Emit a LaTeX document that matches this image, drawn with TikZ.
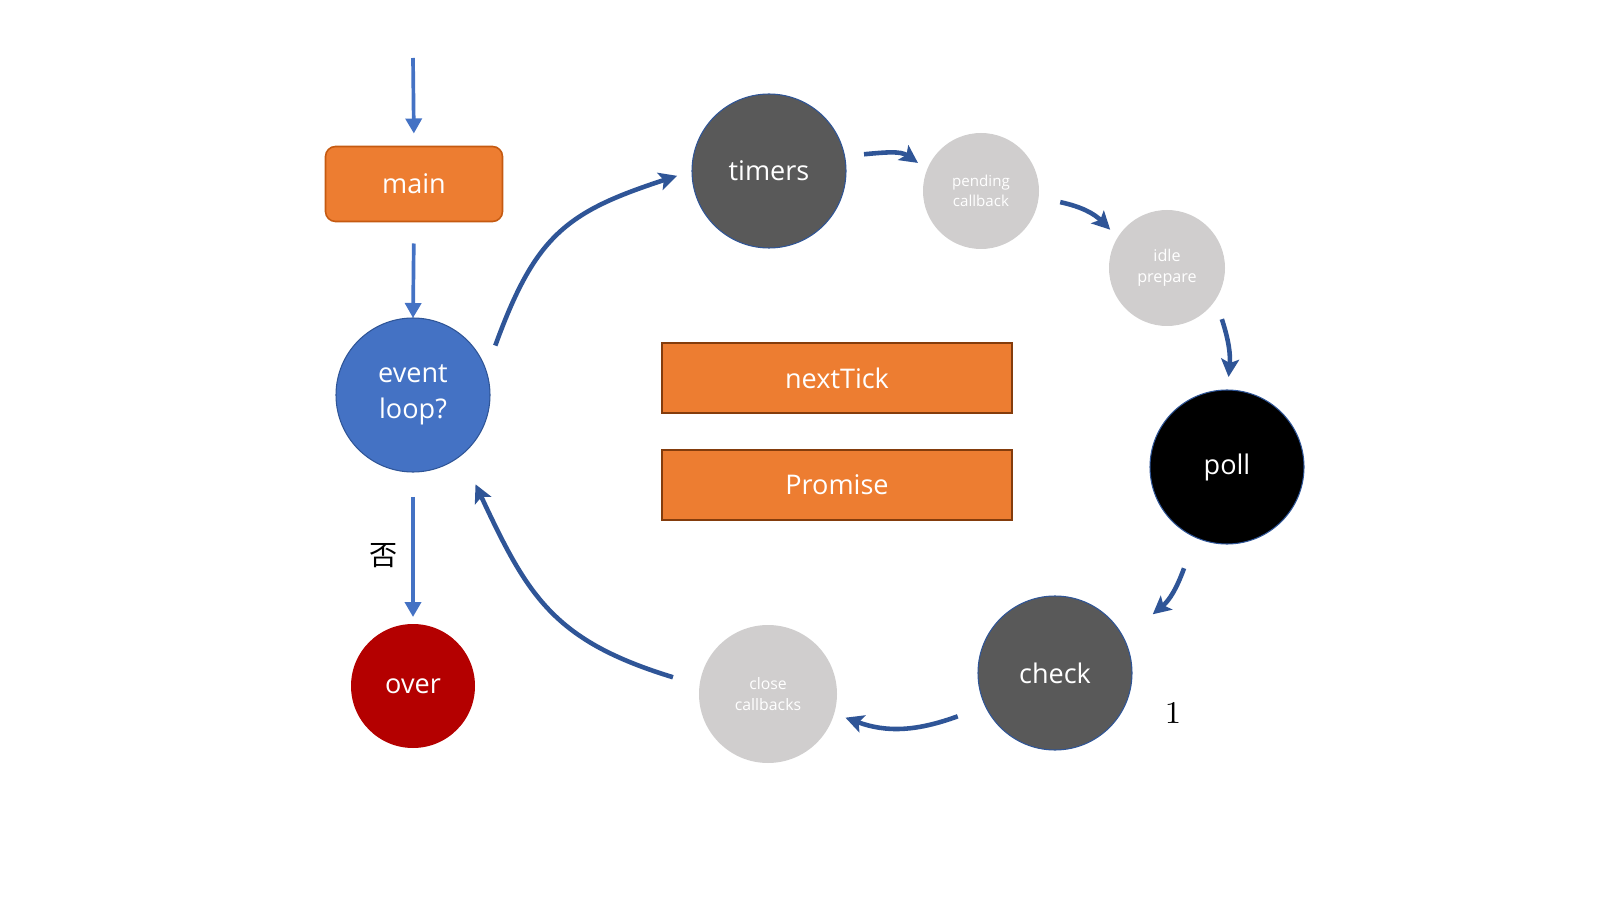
\documentclass[tikz,border=0pt]{standalone}
\usepackage{fontspec}
\usepackage{tikz}
\usetikzlibrary{arrows.meta,positioning}

\newfontfamily\uifont{Open Sans}
\newfontfamily\cjkfont{Noto Sans CJK SC}

\definecolor{accblue}{HTML}{4472C4}
\definecolor{loopblue}{HTML}{2F5597}
\definecolor{accorange}{HTML}{ED7D31}
\definecolor{mainedge}{HTML}{C55A11}
\definecolor{boxedge}{HTML}{843C0C}
\definecolor{stonegrey}{HTML}{595959}
\definecolor{palegrey}{HTML}{D0CECE}
\definecolor{overred}{HTML}{B40000}

\begin{document}
\begin{tikzpicture}[x=0.1mm, y=0.1mm,
  phase/.style={circle, draw=loopblue, line width=0.3pt, text=white, inner sep=0pt, outer sep=0pt, minimum size=15.4mm, align=center, font=\uifont\fontsize{7.7}{10.2}\selectfont},
  minor/.style={circle, fill=palegrey, text=white, inner sep=0pt, outer sep=0pt, minimum size=11.6mm, align=center, font=\uifont\fontsize{4.3}{5.8}\selectfont},
  queue/.style={rectangle, fill=accorange, draw=boxedge, line width=0.6pt, text=white, minimum width=35mm, minimum height=7mm, outer sep=0pt, font=\uifont\fontsize{7.7}{9}\selectfont},
  vflow/.style={draw=accblue, line width=1.05pt, -{Triangle[length=1.5mm, width=1.6mm]}},
  tick/.style={draw=loopblue, line width=1.3pt, -{Stealth[length=1.8mm, width=1.8mm, inset=0.4mm]}}]

  \useasboundingbox (0,0) rectangle (1600,-900);

  % entry
  \coordinate (entry) at (413,-58);
  \node[rectangle, rounded corners=1mm, fill=accorange, draw=mainedge, line width=0.45pt, text=white, minimum width=17.7mm, minimum height=7.5mm, outer sep=0pt, font=\uifont\fontsize{7.7}{9}\selectfont] (main) at (414,-184) {main};
  \node[phase, fill=accblue] (ev) at (413,-395) {event\\loop?};
  \node[phase, fill=overred, draw=none, minimum size=12.4mm] (over) at (413,-686) {over};
  \node[font=\cjkfont\fontsize{8}{8}\selectfont] (no) at (384,-556) {否};

  \draw[vflow, shorten >=1.3mm] (entry) -- (main.north);
  \draw[vflow, shorten <=2.2mm] (main.south) -- (ev.north);
  \draw[vflow, shorten <=2.5mm, shorten >=0.7mm] (ev.south) -- (over.north);

  % phases
  \node[phase, fill=stonegrey] (timers) at (769,-171) {timers};
  \node[minor] (pend) at (981,-191) {pending\\callback};
  \node[minor, font=\uifont\fontsize{4.6}{6}\selectfont] (idle) at (1167,-268) {idle\\prepare};
  \node[phase, fill=black] (poll) at (1227,-467) {poll};
  \node[phase, fill=stonegrey] (check) at (1055,-673) {check};
  \node[minor, minimum size=13.8mm, font=\uifont\fontsize{4.5}{6}\selectfont] (close) at (768,-694) {close\\callbacks};
  \node[font=\fontsize{9}{9}\selectfont] (one) at (1173,-713) {1};

  % microtasks
  \node[queue] (nexttick) at (837,-378) {nextTick};
  \node[queue] (promise) at (837,-485) {Promise};

  \draw[tick] ([shift={(31:19)}]ev.31) to[out=70, in=198, looseness=1.2] ([shift={(183:15)}]timers.183);
  \draw[tick] ([shift={(10:19.5)}]timers.10) to[out=5, in=145] ([shift={(156:11)}]pend.156);
  \draw[tick] ([shift={(-8:22)}]pend.-8) to[out=-12, in=135] ([shift={(146:10.5)}]idle.146);
  \draw[tick] ([shift={(-43:17)}]idle.-43) to[out=-72, in=85] ([shift={(89:13)}]poll.89);
  \draw[tick] ([shift={(-113:33)}]poll.-113) to[out=-110, in=40] ([shift={(31:37)}]check.31);
  \draw[tick] ([shift={(204:29.5)}]check.204) to[out=200, in=-20] ([shift={(-17:12)}]close.-17);
  \draw[tick] ([shift={(170:27.5)}]close.170) to[out=163, in=-65, looseness=1.15] ([shift={(-55:32)}]ev.-55);

\end{tikzpicture}
\end{document}
